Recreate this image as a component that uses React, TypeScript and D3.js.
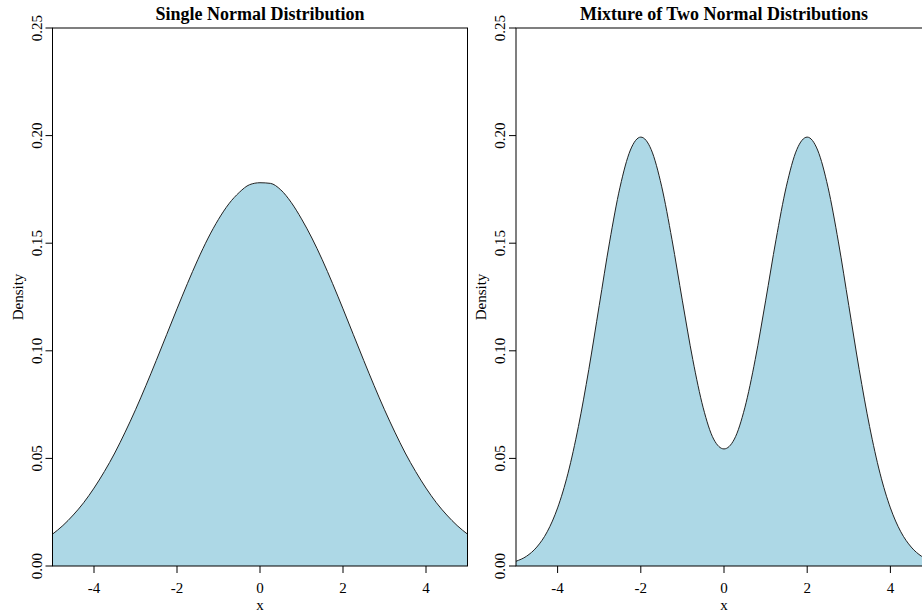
import React from "react";
import * as d3 from "d3";

const xGrid = [
  -5, -4.75, -4.5, -4.25, -4, -3.75, -3.5, -3.25, -3, -2.75, -2.5, -2.25, -2,
  -1.75, -1.5, -1.25, -1, -0.75, -0.5, -0.25, 0, 0.25, 0.5, 0.75, 1, 1.25, 1.5,
  1.75, 2, 2.25, 2.5, 2.75, 3, 3.25, 3.5, 3.75, 4, 4.25, 4.5, 4.75, 5,
];

const singleDensity = [
  0.0148, 0.0188, 0.0237, 0.0294, 0.0362, 0.0439, 0.0525, 0.0622, 0.0726,
  0.0838, 0.0955, 0.1075, 0.1195, 0.1312, 0.1423, 0.1524, 0.1611, 0.1683,
  0.1736, 0.1772, 0.1781, 0.1778, 0.1748, 0.169, 0.1613, 0.1524, 0.1423,
  0.1312, 0.1195, 0.1075, 0.0955, 0.0838, 0.0726, 0.0622, 0.0525, 0.0439,
  0.0362, 0.0294, 0.0237, 0.0188, 0.0148,
];

const mixtureDensity = [
  0.0022, 0.0045, 0.0088, 0.0159, 0.027, 0.0431, 0.0648, 0.0913, 0.121,
  0.1506, 0.176, 0.1933, 0.1993, 0.1935, 0.1765, 0.1516, 0.1232, 0.0959,
  0.0735, 0.059, 0.0544, 0.059, 0.0735, 0.0959, 0.1232, 0.1516, 0.1765,
  0.1935, 0.1993, 0.1933, 0.176, 0.1506, 0.121, 0.0913, 0.0648, 0.0431, 0.027,
  0.0159, 0.0088, 0.0045, 0.0022,
];

const xTicks = [-4, -2, 0, 2, 4];
const yTicks = [0, 0.05, 0.1, 0.15, 0.2, 0.25];
const titles = ["Single Normal Distribution", "Mixture of Two Normal Distributions"];

const FONT = "'Liberation Serif', 'Times New Roman', serif";

function Panel({ left, right, title, values }: { left: number; right: number; title: string; values: number[] }) {
  const top = 28;
  const bottom = 566;
  const x = d3.scaleLinear().domain([-5, 5]).range([left, right]);
  const y = d3.scaleLinear().domain([0, 0.25]).range([bottom, top]);
  const pts: [number, number][] = xGrid.map((v, i) => [v, values[i]]);
  const area = d3
    .area<[number, number]>()
    .x((d) => x(d[0]))
    .y0(y(0))
    .y1((d) => y(d[1]))
    .curve(d3.curveMonotoneX);
  const line = d3
    .line<[number, number]>()
    .x((d) => x(d[0]))
    .y((d) => y(d[1]))
    .curve(d3.curveMonotoneX);
  const cx = (left + right) / 2;
  const cy = (top + bottom) / 2;
  return (
    <g>
      <path d={area(pts) || ""} fill="#ADD8E6" stroke="none" />
      <path d={line(pts) || ""} fill="none" stroke="#222" strokeWidth={1} />
      <rect x={left} y={top} width={right - left} height={bottom - top} fill="none" stroke="#000" strokeWidth={1} />
      {xTicks.map((t) => (
        <g key={"x" + t}>
          <line x1={x(t)} x2={x(t)} y1={bottom} y2={bottom + 7} stroke="#000" />
          <text x={x(t)} y={bottom + 27} textAnchor="middle" fontSize={15} fontFamily={FONT} fill="#000">
            {t}
          </text>
        </g>
      ))}
      {yTicks.map((t) => (
        <g key={"y" + t}>
          <line x1={left} x2={left - 7} y1={y(t)} y2={y(t)} stroke="#000" />
          <text
            transform={`translate(${left - 11},${y(t)}) rotate(-90)`}
            textAnchor="middle"
            fontSize={15}
            fontFamily={FONT}
            fill="#000"
          >
            {d3.format(".2f")(t)}
          </text>
        </g>
      ))}
      <text x={cx} y={20} textAnchor="middle" fontSize={18} fontWeight="bold" fontFamily={FONT} fill="#000">
        {title}
      </text>
      <text x={cx} y={610} textAnchor="middle" fontSize={15} fontFamily={FONT} fill="#000">
        x
      </text>
      <text
        transform={`translate(${left - 30},${cy}) rotate(-90)`}
        textAnchor="middle"
        fontSize={15}
        fontFamily={FONT}
        fill="#000"
      >
        Density
      </text>
    </g>
  );
}

export default function App() {
  return (
    <svg
      width={922}
      height={614}
      style={{ position: "absolute", left: 0, top: 0, background: "#fff" }}
    >
      <rect x={0} y={0} width={922} height={614} fill="#fff" />
      <Panel left={52.5} right={467.5} title={titles[0]} values={singleDensity} />
      <Panel left={516} right={932} title={titles[1]} values={mixtureDensity} />
    </svg>
  );
}
